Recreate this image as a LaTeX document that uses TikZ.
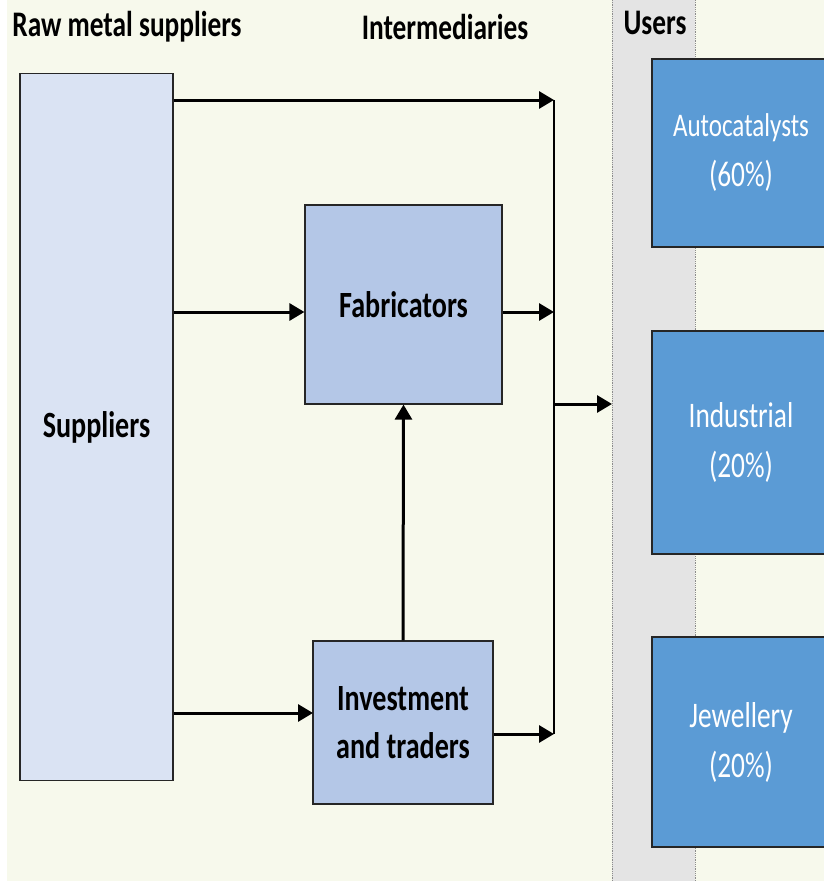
\documentclass[tikz,border=0pt]{standalone}
\usepackage{fontspec}
\setmainfont{Carlito}[FakeStretch=0.76]
\usetikzlibrary{arrows.meta}
\definecolor{cream}{HTML}{F7F9EC}
\definecolor{colgray}{HTML}{E4E4E4}
\definecolor{suplight}{HTML}{DAE3F3}
\definecolor{midblue}{HTML}{B4C7E7}
\definecolor{userblue}{HTML}{5B9BD5}
\begin{document}
\begin{tikzpicture}[
            x = 1pt, y = -1pt,
            head/.style = {font = \fontsize{36}{40}\selectfont\bfseries},
            box/.style = {draw = black!85, line width = 1.2pt, inner sep = 0mm, align = center},
            mid/.style = {box, fill = midblue, font = \fontsize{37}{48}\selectfont\bfseries},
            user/.style = {box, fill = userblue, text = white, minimum width = 178pt,
                           font = \fontsize{36}{50}\selectfont},
            arr/.style = {draw, line width = 3pt, -{Triangle[length = 15pt, width = 17pt]}},
            bus/.style = {draw, line width = 1.4pt},
        ]
        % background
        \useasboundingbox[fill = white] (0,0) rectangle (824,881);
        \fill[cream] (7,0) rectangle (824,881);
        \fill[colgray] (612,0) rectangle (695,881);
        \draw[black!45, densely dotted, line width = 0.8pt] (612,0) -- (612,881);
        \draw[black!45, densely dotted, line width = 0.8pt] (695,0) -- (695,881);

        \node (hraw) [head] at (127,27) {Raw metal suppliers};
        \node (hint) [head] at (445,27) {Intermediaries};
        \node (husr) [head] at (655,23) {Users};

        \node (sup) [box, fill = suplight, minimum width = 153pt, minimum height = 707pt,
                     font = \fontsize{37}{48}\selectfont\bfseries] at (96.5,427) {Suppliers};
        \node (fab) [mid, minimum width = 197pt, minimum height = 199pt] at (403.5,304.5) {Fabricators};
        \node (inv) [mid, minimum width = 180pt, minimum height = 163pt] at (403,722.5) {Investment\\and traders};

        \node (auto) [user, minimum height = 188pt] at (741,153) {{\fontsize{33}{50}\selectfont Autocatalysts}\\(60\%)};
        \node (ind) [user, minimum height = 223pt] at (741,442.5) {Industrial\\(20\%)};
        \node (jew) [user, minimum height = 210pt] at (741,742) {Jewellery\\(20\%)};

        \coordinate (b1) at (554,100);
        \coordinate (b2) at (554,312);
        \coordinate (b3) at (554,404);
        \coordinate (b4) at (554,734);
        \coordinate (iin) at (313,713);
        \coordinate (u) at (612,404);

        \path[bus] (b1) -- (b4);

        \path[arr] (sup.east |- b1) -- (b1);
        \path[arr] (sup.east |- b2) -- (fab.west |- b2);
        \path[arr] (fab.east |- b2) -- (b2);
        \path[arr] (sup.east |- iin) -- (iin);
        \path[arr] (inv.east |- b4) -- (b4);
        \path[arr] (inv.north) -- (fab.south);
        \path[arr] (b3) -- (u);
    \end{tikzpicture}
\end{document}
